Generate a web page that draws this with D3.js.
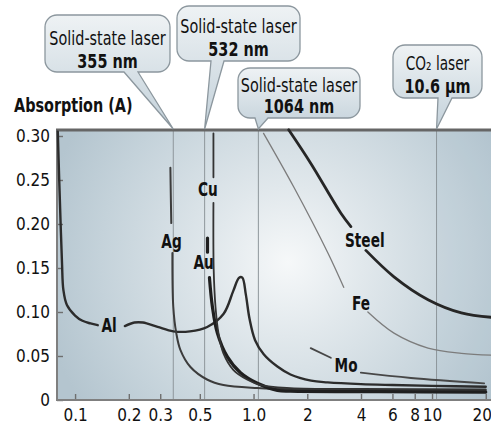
<!DOCTYPE html>
<html>
<head>
<meta charset="utf-8">
<script src="https://cdn.jsdelivr.net/npm/d3@7"></script>
<style>
  html, body { margin: 0; padding: 0; background: #fff; }
  svg { display: block; }
  text { font-family: "DejaVu Sans Condensed", "Liberation Sans Narrow", sans-serif; fill: #111; }
</style>
</head>
<body>
<svg id="chart" width="491" height="429"></svg>
<script>
// Absorption vs. wavelength (µm) for common metals; null marks a break in a curve around its label
const alCurve = [[0.0800,0.305],[0.0815,0.25],[0.0830,0.20],[0.0845,0.155],[0.0860,0.125],[0.090,0.108],[0.100,0.096],[0.110,0.090],[0.122,0.087],[0.134,0.085],
  [0.15,null],
  [0.190,0.084],[0.215,0.088],[0.240,0.088],[0.290,0.083],[0.355,0.078],[0.44,0.078],[0.55,0.083],[0.68,0.098],[0.77,0.124],[0.83,0.139],[0.865,0.139],[0.905,0.120],[0.95,0.092],[1.02,0.068],[1.14,0.052],[1.36,0.038],[1.61,0.029],[2.1,0.022],[2.6,0.020],[4.0,0.018],[6.0,0.017],[10,0.016],[20,0.015]];
const agCurve = [[0.342,0.264],[0.344,0.230],[0.346,0.201],
  [0.348,null],
  [0.351,0.167],[0.355,0.106],[0.369,0.076],[0.389,0.057],[0.443,0.0375],[0.552,0.023],[0.678,0.017],[1.05,0.0136],[2.0,0.012],[5.0,0.0115],[20,0.011]];
const cuCurve = [[0.596,0.303],[0.596,0.253],
  [0.596,null],
  [0.596,0.224],[0.598,0.148],[0.612,0.106],[0.636,0.076],[0.678,0.053],[0.772,0.034],[0.925,0.023],[1.095,0.017],[1.61,0.0136],[4.0,0.0125],[20,0.012]];
const auCurve = [[0.552,0.184],[0.552,0.168],
  [0.555,null],
  [0.566,0.139],[0.588,0.106],[0.627,0.076],[0.714,0.049],[0.845,0.031],[1.05,0.019],[1.36,0.011],[1.61,0.010],[5.0,0.0095],[20,0.009]];
const steelCurve = [[1.573,0.307],[2.09,0.269],[3.08,0.2125],[3.51,0.197],
  [3.9,null],
  [4.26,0.170],[6.12,0.140],[9.5,0.114],[14.6,0.099],[21.4,0.094]];
const feCurve = [[1.138,0.303],[1.68,0.242],[2.61,0.167],[3.2,0.128],
  [3.8,null],
  [4.37,0.100],[6.12,0.076],[9.5,0.059],[14.6,0.053],[21.4,0.051]];
const moCurve = [[2.09,0.059],[2.71,0.048],
  [3.3,null],
  [3.99,0.031],[7.62,0.025],[19.6,0.019]];

const curveNames = ["Al","Ag","Au","Cu","Steel","Fe","Mo"];
const curveData = [alCurve, agCurve, auCurve, cuCurve, steelCurve, feCurve, moCurve];
const curveWidths = [2.4, 2.0, 3.2, 1.8, 2.8, 1.3, 1.8];
const curveColors = ["#2c2c2c","#3c3c3c","#1f1f1f","#333333","#262626","#7c7c7c","#474747"];
// label anchor points [wavelength, absorption]
const labelPoints = [[0.155,0.085],[0.347,0.180],[0.525,0.157],[0.555,0.240],[4.2,0.182],[4.0,0.110],[3.3,0.040]];

// laser lines and callouts
const laserWavelengths = [0.355, 0.532, 1.064, 10.6];
const laserTitles = ["Solid-state laser","Solid-state laser","Solid-state laser","CO\u2082 laser"];
const laserValues = ["355 nm","532 nm","1064 nm","10.6 \u00b5m"];

const xTicks = [0.1, 0.2, 0.3, 0.5, 1.0, 2, 4, 6, 8, 10, 20];
const xTickLabels = ["0.1","0.2","0.3","0.5","1.0","2","4","6","8","10","20"];
const yTicks = [0, 0.05, 0.10, 0.15, 0.20, 0.25, 0.30];
const yTickLabels = ["0","0.05","0.10","0.15","0.20","0.25","0.30"];

const svg = d3.select("#chart");
const plot = { left: 57, right: 491, top: 130, bottom: 400 };
const squeeze = 0.8; // horizontal compression for the condensed display lettering

const x = d3.scaleLog().domain([0.0792, 21.4]).range([plot.left, plot.right]);
const y = d3.scaleLinear().domain([0, 0.3068]).range([plot.bottom, plot.top]);

const defs = svg.append("defs");
const bg = defs.append("radialGradient").attr("id", "plotBg")
  .attr("gradientUnits", "userSpaceOnUse").attr("cx", 288).attr("cy", 262).attr("r", 250);
bg.append("stop").attr("offset", 0).attr("stop-color", "#f6f8f9");
bg.append("stop").attr("offset", 0.3).attr("stop-color", "#e1e8ec");
bg.append("stop").attr("offset", 0.75).attr("stop-color", "#c4d2da");
bg.append("stop").attr("offset", 1).attr("stop-color", "#b4c5cf");

const boxFill = defs.append("linearGradient").attr("id", "boxFill").attr("x1", 0).attr("y1", 0).attr("x2", 0).attr("y2", 1);
boxFill.append("stop").attr("offset", 0).attr("stop-color", "#eef2f4");
boxFill.append("stop").attr("offset", 1).attr("stop-color", "#c3d1da");

// plot background
svg.append("rect")
  .attr("x", plot.left).attr("y", plot.top)
  .attr("width", plot.right - plot.left).attr("height", plot.bottom - plot.top)
  .attr("fill", "url(#plotBg)");
// slightly deeper tint beyond the CO2 line
svg.append("rect")
  .attr("x", x(10.6)).attr("y", plot.top)
  .attr("width", plot.right - x(10.6)).attr("height", plot.bottom - plot.top)
  .attr("fill", "#9fb4c2").attr("opacity", 0.12);

// laser wavelength guide lines
svg.append("g").selectAll("line").data(laserWavelengths).join("line")
  .attr("x1", d => x(d)).attr("x2", d => x(d))
  .attr("y1", plot.top).attr("y2", plot.bottom)
  .attr("stroke", "#8e969b").attr("stroke-width", 1);

// axes
const xAxis = d3.axisBottom(x).tickValues(xTicks).tickSize(-6).tickPadding(9)
  .tickFormat((d, i) => xTickLabels[i]);
const gx = svg.append("g").attr("transform", `translate(0,${plot.bottom})`).call(xAxis);
gx.select(".domain").remove();
gx.selectAll(".tick line").attr("stroke", "#6f6f6f").attr("stroke-width", 1.4);
gx.selectAll(".tick text").attr("font-size", 17).attr("fill", "#111")
  .attr("font-family", "'DejaVu Sans Condensed',sans-serif")
  .attr("dx", d => d === 20 ? -4 : 0);

const yAxis = d3.axisLeft(y).tickValues(yTicks).tickSize(-6).tickPadding(7)
  .tickFormat((d, i) => yTickLabels[i]);
const gy = svg.append("g").attr("transform", `translate(${plot.left},0)`).call(yAxis);
gy.select(".domain").remove();
gy.selectAll(".tick line").attr("stroke", "#6f6f6f").attr("stroke-width", 1.4);
gy.selectAll(".tick text").attr("font-size", 17).attr("fill", "#111")
  .attr("font-family", "'DejaVu Sans Condensed',sans-serif");

// frame: left and bottom axis lines, heavy top rule
svg.append("line").attr("x1", plot.left).attr("x2", plot.left).attr("y1", plot.top).attr("y2", plot.bottom + 1)
  .attr("stroke", "#7f7f7f").attr("stroke-width", 2);
svg.append("line").attr("x1", plot.left).attr("x2", plot.right).attr("y1", plot.bottom).attr("y2", plot.bottom)
  .attr("stroke", "#7f7f7f").attr("stroke-width", 2);
svg.append("line").attr("x1", plot.left - 1).attr("x2", plot.right).attr("y1", plot.top).attr("y2", plot.top)
  .attr("stroke", "#666").attr("stroke-width", 3);

// absorption curves
const line = d3.line()
  .defined(d => d[1] !== null)
  .x(d => x(d[0])).y(d => y(d[1]))
  .curve(d3.curveCatmullRom.alpha(0.5));

svg.append("g").selectAll("path").data(curveData).join("path")
  .attr("d", d => line(d))
  .attr("fill", "none")
  .attr("stroke", (d, i) => curveColors[i])
  .attr("stroke-width", (d, i) => curveWidths[i])
  .attr("stroke-linecap", "round")
  .attr("stroke-linejoin", "round");

svg.append("g").selectAll("text").data(curveNames).join("text")
  .attr("transform", (d, i) => `translate(${x(labelPoints[i][0])},${y(labelPoints[i][1])}) scale(${squeeze},1)`)
  .attr("dy", "0.36em")
  .attr("text-anchor", "middle")
  .attr("font-size", 19).attr("font-weight", "bold")
  .text(d => d);

// y axis title
svg.append("text").attr("transform", `translate(14,112) scale(${squeeze},1)`)
  .attr("font-size", 20).attr("font-weight", "bold")
  .text("Absorption (A)");

// callout boxes: [left, top, right, bottom, tail base left, tail base right]
const callBoxes = [
  [45, 15, 170, 72, 124, 138],
  [177, 6, 300, 61, 211, 224],
  [238, 68, 360, 118, 255, 268],
  [393, 45, 482, 98, 438, 452]
];
const titleBaselines = [45, 33, 92, 70];
const valueBaselines = [68, 56, 113, 93];

function calloutPath(b, tipX, tipY) {
  const [l, t, r, bt, t1, t2] = b;
  const rad = 12;
  const p = d3.path();
  p.moveTo(l + rad, t);
  p.lineTo(r - rad, t);
  p.arcTo(r, t, r, t + rad, rad);
  p.lineTo(r, bt - rad);
  p.arcTo(r, bt, r - rad, bt, rad);
  p.lineTo(t2, bt);
  p.lineTo(tipX, tipY);
  p.lineTo(t1, bt);
  p.lineTo(l + rad, bt);
  p.arcTo(l, bt, l, bt - rad, rad);
  p.lineTo(l, t + rad);
  p.arcTo(l, t, l + rad, t, rad);
  p.closePath();
  return p.toString();
}

const callouts = svg.append("g").selectAll("g").data(laserWavelengths).join("g");
callouts.append("path")
  .attr("d", (d, i) => calloutPath(callBoxes[i], x(d), plot.top - 1))
  .attr("fill", "url(#boxFill)")
  .attr("stroke", "#8c979e").attr("stroke-width", 1.3);

callouts.append("text")
  .attr("transform", (d, i) => `translate(${(callBoxes[i][0] + callBoxes[i][2]) / 2},${titleBaselines[i]}) scale(${squeeze},1)`)
  .attr("text-anchor", "middle").attr("font-size", (d, i) => i === 3 ? 19 : 20).attr("fill", "#1a1a1a")
  .text((d, i) => laserTitles[i]);

callouts.append("text")
  .attr("transform", (d, i) => `translate(${(callBoxes[i][0] + callBoxes[i][2]) / 2},${valueBaselines[i]}) scale(${squeeze},1)`)
  .attr("text-anchor", "middle").attr("font-size", 20).attr("font-weight", "bold")
  .text((d, i) => laserValues[i]);
</script>
</body>
</html>
